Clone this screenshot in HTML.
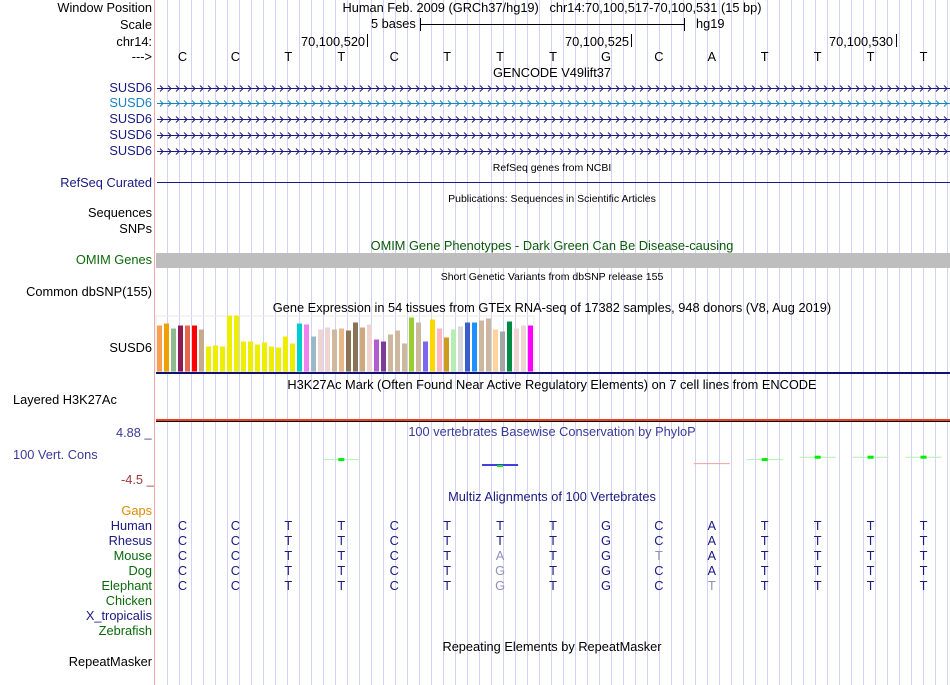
<!DOCTYPE html>
<html><head><meta charset="utf-8"><style>
body{margin:0;width:950px;height:685px;background:#fff;overflow:hidden;position:relative;font-family:"Liberation Sans",sans-serif;font-size:12.8px;}
.a{position:absolute;white-space:nowrap;line-height:14px;}
.l{position:absolute;right:798px;text-align:right;white-space:nowrap;line-height:14px;}
.c{position:absolute;white-space:nowrap;line-height:14px;transform:translateX(-50%);}
.s{font-size:10.5px;}
</style></head><body>
<svg id="grid" width="950" height="685" style="position:absolute;left:0;top:0"></svg>

<div class="l" style="top:1px">Window Position</div>
<div class="l" style="top:18px">Scale</div>
<div class="l" style="top:35px">chr14:</div>
<div class="l" style="top:50px">---&gt;</div>
<div class="c" style="left:552px;top:1px">Human Feb. 2009 (GRCh37/hg19)&nbsp;&nbsp;&nbsp;chr14:70,100,517-70,100,531 (15 bp)</div>
<div class="a" style="left:371px;top:17px">5 bases</div>
<div class="a" style="left:696px;top:17px">hg19</div>
<div class="a" style="left:301px;top:35px">70,100,520</div>
<div class="a" style="left:565px;top:35px">70,100,525</div>
<div class="a" style="left:829px;top:35px">70,100,530</div>
<div id="seq"></div>
<div class="c" style="left:552px;top:66px">GENCODE V49lift37</div>
<div class="l" style="top:81px;color:#1a1a80">SUSD6</div>
<div class="l" style="top:96px;color:#1a80c0">SUSD6</div>
<div class="l" style="top:112px;color:#1a1a80">SUSD6</div>
<div class="l" style="top:128px;color:#1a1a80">SUSD6</div>
<div class="l" style="top:144px;color:#1a1a80">SUSD6</div>
<div class="c s" style="left:552px;top:161px">RefSeq genes from NCBI</div>
<div class="l" style="top:176px;color:#1a1a80">RefSeq Curated</div>
<div class="c s" style="left:552px;top:192px">Publications: Sequences in Scientific Articles</div>
<div class="l" style="top:206px">Sequences</div>
<div class="l" style="top:222px">SNPs</div>
<div class="c" style="left:552px;top:239px;color:#0a5a0a">OMIM Gene Phenotypes - Dark Green Can Be Disease-causing</div>
<div class="l" style="top:253px;color:#0a6a0a">OMIM Genes</div>
<div class="c s" style="left:552px;top:270px">Short Genetic Variants from dbSNP release 155</div>
<div class="l" style="top:285px">Common dbSNP(155)</div>
<div class="c" style="left:552px;top:301px">Gene Expression in 54 tissues from GTEx RNA-seq of 17382 samples, 948 donors (V8, Aug 2019)</div>
<div class="l" style="top:341px">SUSD6</div>
<div class="c" style="left:552px;top:378px">H3K27Ac Mark (Often Found Near Active Regulatory Elements) on 7 cell lines from ENCODE</div>
<div class="a" style="left:13px;top:393px">Layered H3K27Ac</div>
<div class="c" style="left:552px;top:425px;color:#3a3a9a">100 vertebrates Basewise Conservation by PhyloP</div>
<div class="a" style="left:116px;top:426px;color:#3a3a9a">4.88 _</div>
<div class="a" style="left:13px;top:448px;color:#3a3a9a">100 Vert. Cons</div>
<div class="a" style="left:121px;top:473px;color:#9a3a3a">-4.5 _</div>
<div class="c" style="left:552px;top:490px;color:#1a1a80">Multiz Alignments of 100 Vertebrates</div>
<div class="l" style="top:504px;color:#e08a00">Gaps</div>
<div id="mz"></div>
<div class="c" style="left:552px;top:640px">Repeating Elements by RepeatMasker</div>
<div class="l" style="top:655px">RepeatMasker</div>

<script>
const bases=["C","C","T","T","C","T","T","T","G","C","A","T","T","T","T"];
const gtexHeights=[46,48,43,46,46,46,42,25,26,25,56,56,30,30,27,29,25,24,35,28,48,47,35,42,44,42,43,41,49,44,47,32,30,37,41,28,54,49,30,52,43,34,42,45,49,49,51,53,42,40,50,43,46,46];
const gtexColors=["#f8a050","#f0a000","#8fbc8f","#8b1a55","#e8684a","#ff0000","#c8aa8c","#eeee00","#eeee00","#eeee00","#eeee00","#eeee00","#eeee00","#eeee00","#eeee00","#eeee00","#eeee00","#eeee00","#eeee00","#eeee00","#00cdcd","#ee82ee","#9ab8c8","#eed5d2","#eed5d2","#d0b8a0","#e8b888","#8b7355","#8b7355","#cdaa7d","#eed5d2","#b05fd0","#7d3c98","#cdb79e","#cdb79e","#cdb79e","#9acd32","#cdb79e","#7b68ee","#ffd700","#ffb6c1","#cd9b1d","#b4eeb4","#d9d9d9","#3a5fcd","#1e90ff","#cdb79e","#cdb79e","#ffd39b","#a6a6a6","#008b45","#eed5d2","#eed5d2","#ff00ff"];
const phylopBases=[3,6,10,11,12,13,14];
const phylopScores=[0.3,-0.4,-0.2,0.3,0.6,0.6,0.6];
const species=["Human","Rhesus","Mouse","Dog","Elephant","Chicken","X_tropicalis","Zebrafish"];
const speciesColors=["#1a1a80","#1a1a80","#0a6a0a","#0a6a0a","#0a6a0a","#0a6a0a","#1a1a80","#0a6a0a"];
const alignments=["CCTTCTTTGCATTTT","CCTTCTTTGCATTTT","CCTTCTATGTATTTT","CCTTCTGTGCATTTT","CCTTCTGTGCTTTTT","","",""];

const NS="http://www.w3.org/2000/svg";
const svg=document.getElementById('grid');
const x0=156,x1=950,bw=(x1-x0)/bases.length;
const bx=i=>x0+bw*(i+0.5);
function mk(t,a){const e=document.createElementNS(NS,t);for(const k in a)e.setAttribute(k,a[k]);svg.appendChild(e);return e;}
for(let x=167;x<950;x+=12){const g=mk('line',{x1:x+0.5,y1:0,x2:x+0.5,y2:685,stroke:'#d2d2f4','stroke-width':1});

}
let p=mk('line',{x1:154.5,y1:0,x2:154.5,y2:685,stroke:'#f4a8a8'});


mk('line',{x1:420,y1:24.5,x2:685,y2:24.5,stroke:'#000'});
mk('line',{x1:420.5,y1:18,x2:420.5,y2:31,stroke:'#000'});
mk('line',{x1:684.5,y1:18,x2:684.5,y2:31,stroke:'#000'});
[367,631,896].forEach(x=>mk('line',{x1:x+0.5,y1:34,x2:x+0.5,y2:47,stroke:'#000'}));
[[88,'#1a1a80'],[103,'#1a80c0'],[119,'#1a1a80'],[135,'#1a1a80'],[151,'#1a1a80']].forEach(([y,c])=>{
 const ln=mk('line',{x1:157,y1:y+0.5,x2:950,y2:y+0.5,stroke:c});
 
 
 let d='';for(let x=160;x<950;x+=8)d+=`M${x},${y-2.5}L${x+3},${y+0.5}L${x},${y+3.5}`;
 mk('path',{d:d,stroke:c,fill:'none','stroke-width':1});
});
mk('line',{x1:157,y1:182.5,x2:950,y2:182.5,stroke:'#1a1a80'});
let om=mk('rect',{x:156,y:253,width:794,height:15,fill:'#bebebe'});


const gb=371.5,gs=1;
mk('rect',{x:156,y:316,width:378,height:56,fill:'none',stroke:'#e8e8e8'});
gtexHeights.forEach((h,i)=>{const r=mk('rect',{x:157+i*7,y:gb-h*gs,width:5,height:h*gs,fill:gtexColors[i]});

});
mk('rect',{x:156,y:372,width:794,height:2,fill:'#101070'});
mk('rect',{x:156,y:419,width:794,height:2,fill:'#f04020'});
mk('line',{x1:156,y1:421.5,x2:950,y2:421.5,stroke:'#000','stroke-width':1});
const py0=462,pscale=8;
phylopBases.forEach((b,i)=>{const s=phylopScores[i];const c=bx(b);
 const col=s>=0?'#00ee00':'#e03030';
 const light=s>=0?'#b0f0b0':'#f0a0a0';
 const y=py0-s*pscale;
 mk('line',{x1:c-18,y1:y,x2:c+18,y2:y,stroke:light});
 const r=mk('rect',{x:c-3,y:y-1.5,width:s>=0?6:0,height:3,fill:col});
 
 
});
mk('rect',{x:bx(6)-18,y:464,width:36,height:2,fill:'#4040e0'});
mk('rect',{x:bx(6)-3,y:465,width:6,height:2,fill:'#00ee00'});
let html='';
bases.forEach((b,i)=>{html+=`<div class="c" style="left:${bx(i)}px;top:50px">${b}</div>`;});
document.getElementById('seq').innerHTML=html;
let mz='';
species.forEach((s,j)=>{const y=519+j*15;
 mz+=`<div class="l" style="top:${y}px;color:${speciesColors[j]}">${s}</div>`;
 const al=alignments[j];
 for(let i=0;i<al.length;i++){const gray=j>0&&al[i]!==alignments[0][i];
  mz+=`<div class="c" style="left:${bx(i)}px;top:${y}px;color:${gray?'#9090b8':'#1a1a80'}">${al[i]}</div>`;}
});
document.getElementById('mz').innerHTML=mz;
</script>
</body></html>
